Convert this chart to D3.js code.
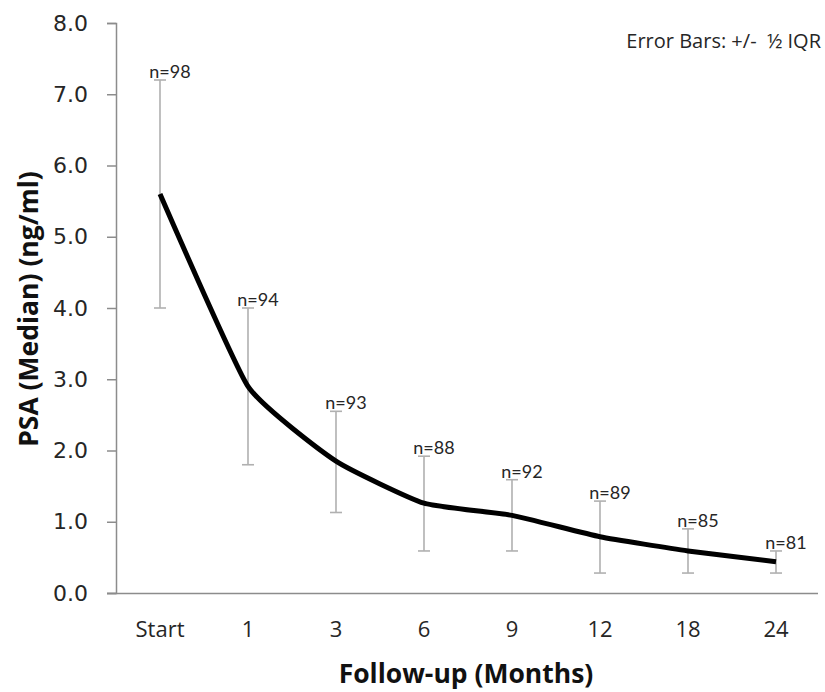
<!DOCTYPE html>
<html>
<head>
<meta charset="utf-8">
<script src="https://cdn.jsdelivr.net/npm/d3@7"></script>
<style>
  body { margin: 0; background: #fff; }
  svg { display: block; }
</style>
</head>
<body>
<div id="chart"></div>
<script>
// follow-up time points
const months = ["Start", "1", "3", "6", "9", "12", "18", "24"]
// median PSA (ng/ml)
const median = [5.6, 2.9, 1.85, 1.26, 1.09, 0.79, 0.59, 0.44]
// error bar ends (+/- half IQR)
const lower = [4.0, 1.8, 1.13, 0.59, 0.59, 0.28, 0.28, 0.28]
const upper = [7.2, 4.0, 2.55, 1.92, 1.59, 1.29, 0.90, 0.59]
// patients per time point
const counts = [98, 94, 93, 88, 92, 89, 85, 81]
const yTicks = [0, 1, 2, 3, 4, 5, 6, 7, 8]

const drawChart = () => {
    const width = 825,
        height = 692
    const margin = ({ top: 23, right: 5, bottom: 99, left: 116 })

    const svg = d3.select("#chart").append("svg")
        .attr("width", width)
        .attr("height", height)

    const x = d3.scaleBand()
        .domain(months)
        .range([margin.left, width - margin.right])

    const y = d3.scaleLinear()
        .domain([0, 8])
        .range([height - margin.bottom, margin.top])

    const data = months.map((m, i) => ({
        m, v: median[i], lo: lower[i], hi: upper[i], n: counts[i]
    }))

    // y axis
    const yAxis = g => g
        .attr("transform", `translate(${margin.left},0)`)
        .call(d3.axisLeft(y).tickValues(yTicks).tickSize(9).tickPadding(19).tickFormat(d3.format(".1f")))
        .call(g => g.selectAll(".domain").attr("stroke", "#8c8c8c").attr("stroke-width", 1.5))
        .call(g => g.selectAll(".tick line").attr("stroke", "#8c8c8c").attr("stroke-width", 1.5))
        .call(g => g.selectAll(".tick text")
            .attr("font-family", "DejaVu Sans")
            .attr("font-size", 22)
            .attr("fill", "#262626"))

    // x axis
    const xAxis = g => g
        .attr("transform", `translate(0,${height - margin.bottom})`)
        .call(d3.axisBottom(x).tickSize(0).tickPadding(28))
        .call(g => g.selectAll(".domain")
            .attr("stroke", "#8c8c8c").attr("stroke-width", 1.5)
            .attr("d", `M${margin.left - 9},0.5H${width - 7}`))
        .call(g => g.selectAll(".tick text")
            .attr("font-family", "'Open Sans', Lato, sans-serif")
            .attr("font-size", 22)
            .attr("fill", "#262626"))

    svg.append("g").call(yAxis)
    svg.append("g").call(xAxis)

    const cx = d => x(d.m) + x.bandwidth() / 2

    // error bars
    const eb = svg.append("g")
        .attr("stroke", "#b0b0b0")
        .attr("stroke-width", 1.6)
        .attr("fill", "none")

    eb.selectAll("line.stem")
        .data(data)
        .join("line")
        .attr("class", "stem")
        .attr("x1", cx).attr("x2", cx)
        .attr("y1", d => y(d.lo)).attr("y2", d => y(d.hi))

    eb.selectAll("line.cap-hi")
        .data(data)
        .join("line")
        .attr("class", "cap-hi")
        .attr("x1", d => cx(d) - 6).attr("x2", d => cx(d) + 6)
        .attr("y1", d => y(d.hi)).attr("y2", d => y(d.hi))

    eb.selectAll("line.cap-lo")
        .data(data)
        .join("line")
        .attr("class", "cap-lo")
        .attr("x1", d => cx(d) - 6).attr("x2", d => cx(d) + 6)
        .attr("y1", d => y(d.lo)).attr("y2", d => y(d.lo))

    // median line
    const line = d3.line()
        .x(cx)
        .y(d => y(d.v))
        .curve(d3.curveCardinal.tension(0.55))

    svg.append("path")
        .datum(data)
        .attr("fill", "none")
        .attr("stroke", "#000")
        .attr("stroke-width", 5)
        .attr("stroke-linejoin", "round")
        .attr("d", line)

    // n labels
    svg.append("g")
        .selectAll("text")
        .data(data)
        .join("text")
        .attr("x", d => cx(d) + 10)
        .attr("y", d => y(d.hi) - 2)
        .attr("text-anchor", "middle")
        .attr("font-family", "Lato, 'Open Sans', sans-serif")
        .attr("font-size", 18)
        .attr("fill", "#262626")
        .text(d => `n=${d.n}`)

    // axis titles
    svg.append("text")
        .attr("x", 466)
        .attr("y", 683)
        .attr("text-anchor", "middle")
        .attr("font-family", "'Open Sans', Lato, sans-serif")
        .attr("font-weight", "bold")
        .attr("font-size", 26.5)
        .attr("fill", "#111")
        .text("Follow-up (Months)")

    svg.append("text")
        .attr("transform", "translate(38,309) rotate(-90)")
        .attr("text-anchor", "middle")
        .attr("font-family", "'Open Sans', Lato, sans-serif")
        .attr("font-weight", "bold")
        .attr("font-size", 26.5)
        .attr("fill", "#111")
        .text("PSA (Median) (ng/ml)")

    svg.append("text")
        .attr("x", 821)
        .attr("y", 48)
        .attr("text-anchor", "end")
        .attr("font-family", "'Open Sans', Lato, sans-serif")
        .attr("font-size", 20)
        .attr("fill", "#262626")
        .attr("xml:space", "preserve")
        .style("white-space", "pre")
        .text("Error Bars: +/-  ½ IQR")
}

drawChart()
</script>
</body>
</html>
